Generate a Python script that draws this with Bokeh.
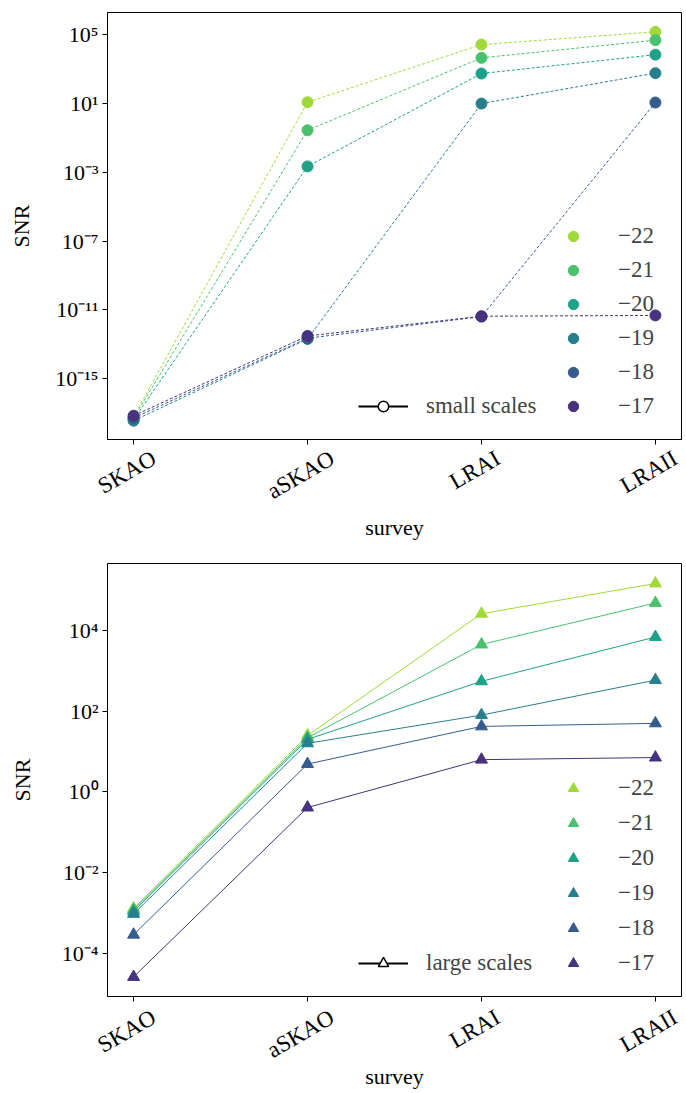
import math
from bokeh.plotting import figure
from bokeh.models import (Range1d, FixedTicker, Legend, LegendItem, ColumnDataSource,
                          LinearAxis)
from bokeh.layouts import column
from bokeh.embed import file_html
from bokeh.resources import INLINE

# ---------------- data ----------------
surveys = ["SKAO", "aSKAO", "LRAI", "LRAII"]
mags = [-22, -21, -20, -19, -18, -17]

# SNR on small scales (top panel), one list per magnitude limit
snr_small_m22 = [6.0e-18, 12.0, 2.7e4, 1.5e5]
snr_small_m21 = [5.0e-18, 0.28, 4.6e3, 4.9e4]
snr_small_m20 = [4.0e-18, 2.2e-3, 560.0, 7.0e3]
snr_small_m19 = [3.5e-18, 2.0e-13, 10.0, 590.0]
snr_small_m18 = [5.0e-18, 2.2e-13, 4.0e-12, 11.5]
snr_small_m17 = [6.8e-18, 3.0e-13, 4.2e-12, 4.7e-12]

# SNR on large scales (bottom panel)
snr_large_m22 = [1.3e-3, 25.0, 2.6e4, 1.46e5]
snr_large_m21 = [1.2e-3, 22.0, 4.5e3, 4.8e4]
snr_large_m20 = [1.1e-3, 20.0, 550.0, 6.9e3]
snr_large_m19 = [9.5e-4, 16.0, 80.0, 590.0]
snr_large_m18 = [2.9e-4, 4.9, 42.0, 50.0]
snr_large_m17 = [2.6e-5, 0.41, 6.3, 7.1]

snr_small = [snr_small_m22, snr_small_m21, snr_small_m20,
             snr_small_m19, snr_small_m18, snr_small_m17]
snr_large = [snr_large_m22, snr_large_m21, snr_large_m20,
             snr_large_m19, snr_large_m18, snr_large_m17]

top_tick_exps = [5, 1, -3, -7, -11, -15]
bottom_tick_exps = [4, 2, 0, -2, -4]

# ---------------- styles ----------------
colors = ["#a0da39", "#4ac16d", "#1fa187", "#277f8e", "#365c8d", "#46327e"]
FONT = "Liberation Serif"
FS = "22px"
XFSZ = 23
XFS = f"{XFSZ}px"
LFS = "23px"
SUP = str.maketrans("-0123456789", "⁻⁰¹²³⁴⁵⁶⁷⁸⁹")
NAN = float("nan")
# approximate advance widths (em) of the serif font, used to centre rotated labels
CHAR_EM = {"S": 0.556, "K": 0.722, "A": 0.722, "O": 0.722, "a": 0.444,
           "L": 0.611, "R": 0.667, "I": 0.333}
ANG = math.pi / 6
X_LO, X_HI = -0.15, 3.15


def pow_label(e):
    return "10" + str(e).translate(SUP)


def style_axis(ax):
    ax.axis_line_color = "black"
    ax.major_tick_line_color = "black"
    ax.major_tick_out = 5
    ax.major_tick_in = 0
    ax.minor_tick_out = 0
    ax.minor_tick_in = 0
    ax.major_label_text_font = FONT
    ax.major_label_text_font_size = FS
    ax.major_label_text_color = "black"
    ax.axis_label_text_font = FONT
    ax.axis_label_text_font_size = FS
    ax.axis_label_text_font_style = "normal"
    ax.axis_label_text_color = "black"
    ax.major_label_standoff = 4


def make_fig(height, border_top, border_bottom, border_left, y_lo, y_hi, exps,
             ylabel_standoff, frame_w, label_standoff, xlabel_standoff):
    p = figure(width=686, height=height, y_axis_type="log",
               output_backend="svg", toolbar_location=None,
               x_range=Range1d(X_LO, X_HI), y_range=Range1d(y_lo, y_hi),
               min_border_top=border_top, min_border_bottom=border_bottom,
               min_border_left=border_left, min_border_right=5)
    p.grid.visible = False
    p.outline_line_color = "black"
    p.outline_line_width = 1
    p.background_fill_color = "white"
    xs = list(range(len(surveys)))
    # tick marks only on the main x axis
    xa = p.xaxis[0]
    style_axis(xa)
    xa.ticker = FixedTicker(ticks=xs, minor_ticks=[])
    xa.major_label_overrides = {i: "" for i in xs}
    xa.major_label_text_font_size = "0px"
    xa.major_label_standoff = 0
    # second axis carrying the rotated survey names, centred on each tick
    px_per_unit = frame_w / (X_HI - X_LO)
    h_txt = XFSZ * 1.15
    pos = []
    for i, s in zip(xs, surveys):
        w = XFSZ * sum(CHAR_EM.get(c, 0.6) for c in s)
        shift = (w * math.cos(ANG) - h_txt * math.sin(ANG)) / 2
        pos.append(i + shift / px_per_unit)
    la = LinearAxis(ticker=FixedTicker(ticks=pos, minor_ticks=[]))
    style_axis(la)
    la.major_label_overrides = {t: s for t, s in zip(pos, surveys)}
    la.major_label_orientation = ANG
    la.major_label_text_font_size = XFS
    la.axis_line_color = None
    la.major_tick_line_color = None
    la.major_tick_out = 0
    la.major_label_standoff = label_standoff
    la.axis_label = "survey"
    la.axis_label_standoff = xlabel_standoff
    p.add_layout(la, "below")

    ticks = [10.0 ** e for e in exps]
    ya = p.yaxis[0]
    style_axis(ya)
    ya.ticker = FixedTicker(ticks=ticks, minor_ticks=[])
    ya.major_label_overrides = {t: pow_label(e) for t, e in zip(ticks, exps)}
    ya.axis_label = "SNR"
    ya.axis_label_standoff = ylabel_standoff
    return p


def add_series(p, data, marker, dash, size):
    xs = list(range(len(surveys)))
    items = []
    for m, vals, c in zip(mags, data, colors):
        src = ColumnDataSource(dict(x=xs, y=vals))
        p.line("x", "y", source=src, line_color=c, line_width=1, line_dash=dash)
        r = p.scatter("x", "y", source=src, marker=marker, size=size,
                      fill_color=c, line_color=c)
        items.append(LegendItem(label="−" + str(abs(m)), renderers=[r]))
    return items


def style_legend(lg):
    lg.border_line_alpha = 0
    lg.background_fill_alpha = 0
    lg.padding = 0
    lg.margin = 0
    lg.label_text_font = FONT
    lg.label_text_font_size = LFS
    lg.label_height = 26
    lg.glyph_height = 26


def add_legends(p, items, marker, label, x_col, x_sc, y0, size, spacing):
    lg = Legend(items=items, location=(x_col, y0))
    style_legend(lg)
    lg.spacing = spacing
    lg.glyph_width = 40
    lg.label_standoff = 25
    p.add_layout(lg)
    # legend-only handle (no data drawn)
    key_src = ColumnDataSource(dict(x=[NAN], y=[NAN]))
    rl = p.line("x", "y", source=key_src, line_color="black", line_width=2)
    rm = p.scatter("x", "y", source=key_src, marker=marker, size=size,
                   fill_color="white", line_color="black", line_width=1.5)
    lg2 = Legend(items=[LegendItem(label=label, renderers=[rl, rm])],
                 location=(x_sc, y0))
    style_legend(lg2)
    lg2.glyph_width = 50
    lg2.label_standoff = 18
    p.add_layout(lg2)


# top panel: small scales
p1 = make_fig(548, 12, 109, 107, 10 ** -18.55, 10 ** 6.3, top_tick_exps, 18, 574,
              12, -3)
items1 = add_series(p1, snr_small, "circle", "3 2", 11)
add_legends(p1, items1, "circle", "small scales", 446, 251, 20, 10, 8)

# bottom panel: large scales
p2 = make_fig(545, 15, 97, 100, 10 ** -5.07, 10 ** 5.66, bottom_tick_exps, 24, 581,
              14, -13)
items2 = add_series(p2, snr_large, "triangle", "solid", 12)
add_legends(p2, items2, "triangle", "large scales", 446, 251, 20, 11, 9)

layout = column(p1, p2, spacing=0)
open("out.html", "w").write(file_html(layout, INLINE))
